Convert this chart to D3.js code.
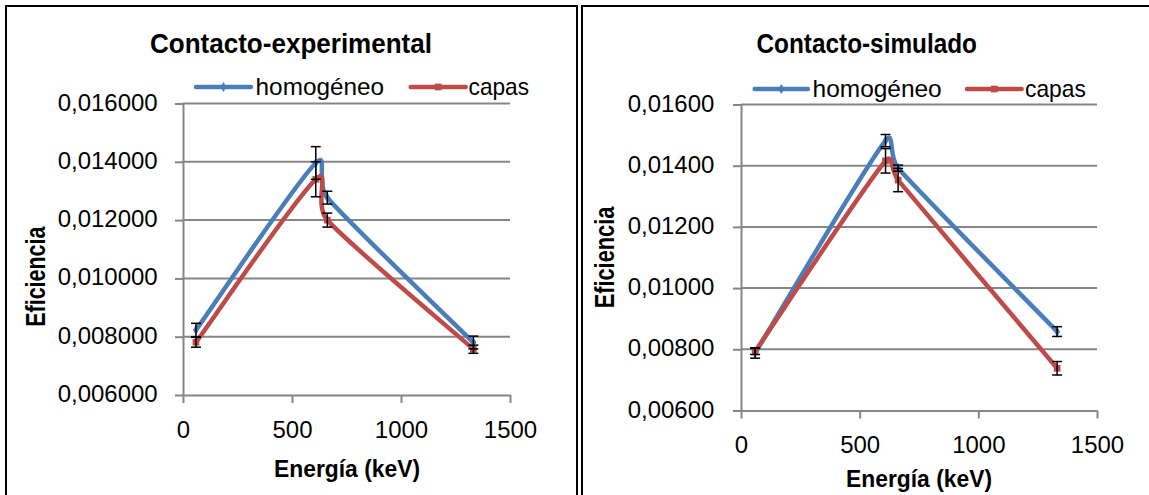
<!DOCTYPE html>
<html><head><meta charset="utf-8">
<script src="https://cdn.jsdelivr.net/npm/d3@7"></script>
<style>body{margin:0;background:#fff} svg{display:block}</style>
</head><body>
<svg id="c" width="1149" height="495"></svg>
<script>
// ---- data ----
const energies = [59.5, 609, 662, 1332];
const seriesNames = ["homogéneo", "capas"];
const chartTitles = ["Contacto-experimental", "Contacto-simulado"];
const xAxisTitle = "Energía (keV)";
const yAxisTitle = "Eficiencia";
const xTicks = [0, 500, 1000, 1500];
const yTicks = [0.006, 0.008, 0.010, 0.012, 0.014, 0.016];
const yDecimals = [6, 5];
const expHomogeneo    = [0.00823, 0.01396, 0.01277, 0.00780];
const expHomogeneoErr = [0.00023, 0.00056, 0.00022, 0.00022];
const expCapas        = [0.00781, 0.01340, 0.01200, 0.00757];
const expCapasErr     = [0.00017, 0.00060, 0.00024, 0.00014];
const simHomogeneo    = [0.00788, 0.01482, 0.01392, 0.00858];
const simHomogeneoErr = [0.00017, 0.00020, 0.00010, 0.00016];
const simCapas        = [0.00793, 0.01416, 0.01353, 0.00738];
const simCapasErr     = [0.00010, 0.00040, 0.00038, 0.00022];

// ---- drawing ----
const svg = d3.select("#c");
const FONT = "'Liberation Sans Narrow','Arial Narrow','Liberation Sans',Arial,sans-serif";
const BLUE = "#4A7EBB", RED = "#BE4B48", GRID = "#868686";

function natural(str, size, weight) {
  const t = svg.append("text").attr("font-family", FONT).attr("font-size", size)
    .attr("font-weight", weight || "normal").text(str);
  const w = t.node().getComputedTextLength(); t.remove(); return w;
}
function putText(g, str, x, y, size, weight, width, transform) {
  const t = g.append("text").attr("font-family", FONT).attr("font-size", size)
    .attr("font-weight", weight || "normal").attr("fill", "#000")
    .attr("x", x).attr("y", y).text(str);
  if (width) t.attr("textLength", width).attr("lengthAdjust", "spacingAndGlyphs");
  if (transform) t.attr("transform", transform);
  return t;
}
// Excel-style smoothed line: cubic Bezier segments, control arms (Pnext - Pprev)/6,
// shortened when the segment is short relative to its neighbours.
function excelSmooth(p) {
  const d = (a, b) => Math.hypot(b[0] - a[0], b[1] - a[1]);
  const path = d3.path();
  path.moveTo(p[0][0], p[0][1]);
  for (let i = 0; i < p.length - 1; i++) {
    const P0 = p[i - 1] || p[i], P1 = p[i], P2 = p[i + 1], P3 = p[i + 2] || p[i + 1];
    const d12 = d(P1, P2), d02 = d(P0, P2), d13 = d(P1, P3);
    let f1 = 1 / 6, f2 = 1 / 6;
    if (d02 > 0 && f1 * d02 > d12 / 2) f1 = d12 / (2 * d02);
    if (d13 > 0 && f2 * d13 > d12 / 2) f2 = d12 / (2 * d13);
    const c1 = [P1[0] + f1 * (P2[0] - P0[0]), P1[1] + f1 * (P2[1] - P0[1])];
    const c2 = [P2[0] - f2 * (P3[0] - P1[0]), P2[1] - f2 * (P3[1] - P1[1])];
    path.bezierCurveTo(c1[0], c1[1], c2[0], c2[1], P2[0], P2[1]);
  }
  return path.toString();
}

const TICK_SIZE = 23;
const kTick = 100 / natural("0,016000", TICK_SIZE);

const layouts = [
  { x0: 183, x1: 510, yTop: 103.5, yBot: 395, border: [6, 6, 571, 540], gap: 25.3,
    hom: expHomogeneo, homErr: expHomogeneoErr, cap: expCapas, capErr: expCapasErr,
    title: [150, 53, 282], leg: { y: 87, base: 95, b: [196, 251], ht: [255.6, 128.4], r: [410.7, 465.7], ct: [468.6, 60.4] },
    xt: [274, 477, 146], yt: [44.5, 276.7, 100] },
  { x0: 741, x1: 1097, yTop: 104.5, yBot: 410.5, border: [582, 6, 580, 540], gap: 26.7,
    hom: simHomogeneo, homErr: simHomogeneoErr, cap: simCapas, capErr: simCapasErr,
    title: [756.5, 53, 220.5], leg: { y: 89, base: 97, b: [754.7, 807.9], ht: [812.6, 129.1], r: [967, 1021.6], ct: [1025, 60.8] },
    xt: [846, 487, 146], yt: [614, 257.5, 101.6] }
];

const blueSym = d3.symbol(d3.symbolDiamond, 30);
const redSym = d3.symbol(d3.symbolSquare, 45);

layouts.forEach((L, ci) => {
  const g = svg.append("g");
  g.append("rect").attr("x", L.border[0]).attr("y", L.border[1]).attr("width", L.border[2]).attr("height", L.border[3])
    .attr("fill", "none").attr("stroke", "#000").attr("stroke-width", 2);

  const x = d3.scaleLinear().domain([0, 1500]).range([L.x0, L.x1]);
  const y = d3.scaleLinear().domain([0.006, 0.016]).range([L.yBot, L.yTop]);
  const dec = yDecimals[ci];

  g.append("g").selectAll("line").data(yTicks.slice(1)).join("line")
    .attr("x1", L.x0).attr("x2", L.x1).attr("y1", d => y(d)).attr("y2", d => y(d))
    .attr("stroke", GRID).attr("stroke-width", 2);

  const ya = g.append("g").attr("transform", `translate(${L.x0},0)`)
    .call(d3.axisLeft(y).tickValues(yTicks).tickSize(8).tickSizeOuter(0).tickFormat(d => d.toFixed(dec).replace(".", ",")));
  const xa = g.append("g").attr("transform", `translate(0,${L.yBot})`)
    .call(d3.axisBottom(x).tickValues(xTicks).tickSize(8).tickSizeOuter(0).tickFormat(d => String(d)));
  [ya, xa].forEach(a => {
    a.select(".domain").attr("stroke", GRID).attr("stroke-width", 2);
    a.selectAll(".tick line").attr("stroke", GRID).attr("stroke-width", 2);
    a.selectAll(".tick text").attr("font-family", FONT).attr("font-size", TICK_SIZE).attr("fill", "#000")
      .attr("text-anchor", "start").attr("dy", null)
      .each(function () {
        const w = this.getComputedTextLength() * kTick;
        d3.select(this).attr("textLength", w).attr("lengthAdjust", "spacingAndGlyphs");
        this.__w = w;
      });
  });
  ya.selectAll(".tick text").attr("x", function () { return -L.gap - this.__w; }).attr("y", 6.5);
  xa.selectAll(".tick text").attr("x", function () { return -this.__w / 2; }).attr("y", 42.5);

  const series = [
    { v: L.hom, e: L.homErr, c: BLUE, sym: blueSym },
    { v: L.cap, e: L.capErr, c: RED, sym: redSym }
  ];
  series.forEach(s => {
    const pts = energies.map((en, i) => [x(en), y(s.v[i])]);
    g.append("path").attr("d", excelSmooth(pts)).attr("fill", "none").attr("stroke", s.c)
      .attr("stroke-width", 4.5).attr("stroke-linejoin", "round").attr("stroke-linecap", "round");
    g.append("g").selectAll("path").data(pts).join("path")
      .attr("transform", d => `translate(${d[0]},${d[1]})`).attr("d", s.sym).attr("fill", s.c);
  });
  series.forEach(s => {
    const eg = g.append("g").attr("stroke", "#000").attr("stroke-width", 1.5);
    energies.forEach((en, i) => {
      const cx = x(en), yt = y(s.v[i] + s.e[i]), yb = y(s.v[i] - s.e[i]);
      eg.append("line").attr("x1", cx).attr("x2", cx).attr("y1", yt).attr("y2", yb);
      eg.append("line").attr("x1", cx - 5).attr("x2", cx + 5).attr("y1", yt).attr("y2", yt);
      eg.append("line").attr("x1", cx - 5).attr("x2", cx + 5).attr("y1", yb).attr("y2", yb);
    });
  });

  putText(g, chartTitles[ci], L.title[0], L.title[1], 28, "bold", L.title[2]);
  const lg = L.leg;
  g.append("line").attr("x1", lg.b[0]).attr("x2", lg.b[1]).attr("y1", lg.y).attr("y2", lg.y)
    .attr("stroke", BLUE).attr("stroke-width", 4.5).attr("stroke-linecap", "round");
  g.append("path").attr("transform", `translate(${(lg.b[0] + lg.b[1]) / 2},${lg.y})`).attr("d", blueSym).attr("fill", BLUE);
  g.append("line").attr("x1", lg.r[0]).attr("x2", lg.r[1]).attr("y1", lg.y).attr("y2", lg.y)
    .attr("stroke", RED).attr("stroke-width", 4.5).attr("stroke-linecap", "round");
  g.append("path").attr("transform", `translate(${(lg.r[0] + lg.r[1]) / 2},${lg.y})`).attr("d", redSym).attr("fill", RED);
  putText(g, seriesNames[0], lg.ht[0], lg.base, 24, "normal", lg.ht[1]);
  putText(g, seriesNames[1], lg.ct[0], lg.base, 24, "normal", lg.ct[1]);
  putText(g, xAxisTitle, L.xt[0], L.xt[1], 23, "bold", L.xt[2]);
  putText(g, yAxisTitle, -L.yt[2] / 2, 0, 27, "bold", L.yt[2], `translate(${L.yt[0]},${L.yt[1]}) rotate(-90)`);
});
</script>
</body></html>
